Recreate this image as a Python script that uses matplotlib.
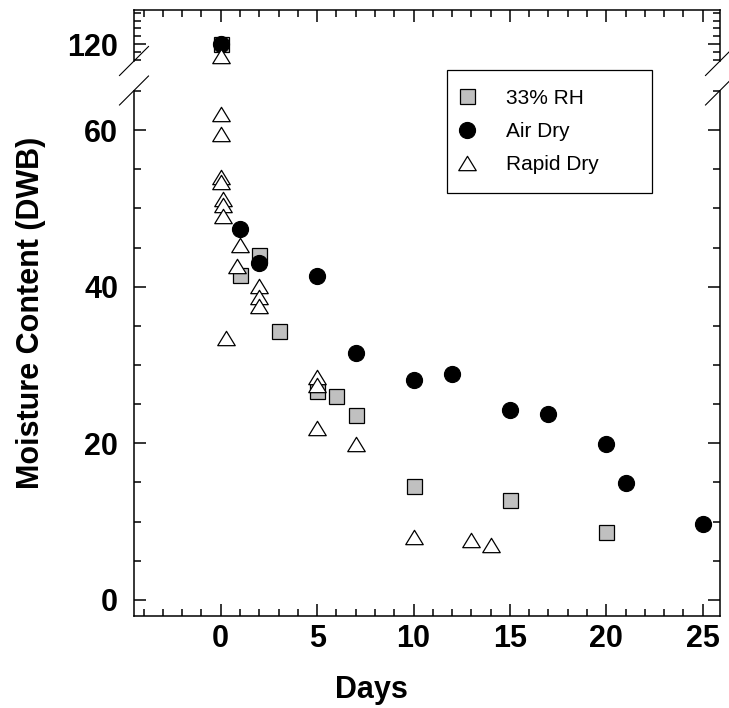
import matplotlib
matplotlib.use("Agg")
import matplotlib.pyplot as plt
from matplotlib.lines import Line2D
from matplotlib.path import Path
from matplotlib.ticker import MultipleLocator, FixedLocator
import numpy as np

plt.rcParams['font.family'] = ['Liberation Sans', 'DejaVu Sans']

# ---- data ----
rh_days = [0, 1, 2, 3, 5, 6, 7, 10, 15, 20]
rh_mc = [120, 41.5, 44.0, 34.4, 26.7, 26.1, 23.6, 14.5, 12.8, 8.7]

air_days = [0, 1, 2, 5, 7, 10, 12, 15, 17, 20, 21, 25]
air_mc = [120, 47.4, 43.0, 41.4, 31.5, 28.1, 28.9, 24.3, 23.8, 19.9, 14.9, 9.7]

rapid_days = [0, 0, 0, 0, 0, 0.1, 0.1, 0.1, 0.25, 0.83, 1, 2, 2, 2, 5, 5, 5, 7, 10, 13, 14]
rapid_mc = [118.5, 62.1, 59.5, 54.0, 53.4, 51.2, 50.5, 49.0, 33.5, 42.6, 45.3,
            40.1, 38.7, 37.6, 28.5, 27.4, 22.0, 19.9, 8.0, 7.6, 7.0]

labels = ['33% RH', 'Air Dry', 'Rapid Dry']
x_ticks = [0, 5, 10, 15, 20, 25]
y_ticks_low = [0, 20, 40, 60]
y_ticks_high = [120]

W, H = 729, 708
fig = plt.figure(figsize=(W / 100, H / 100), dpi=100)

L, R = 134, 720
up_top, up_bot = 10, 61
lo_top, lo_bot = 90.5, 615.6

def fr(x0, x1, ytop, ybot):
    return [x0 / W, 1 - ybot / H, (x1 - x0) / W, (ybot - ytop) / H]

ax_up = fig.add_axes(fr(L, R, up_top, up_bot))
ax_lo = fig.add_axes(fr(L, R, lo_top, lo_bot))

px_per_unit = 7.83
xlim = (-4.5, 25.9)
ax_lo.set_xlim(*xlim)
ax_up.set_xlim(*xlim)
ax_lo.set_ylim(-2, -2 + (lo_bot - lo_top) / px_per_unit)
ax_up.set_ylim(120 - (up_bot - 44) / px_per_unit, 120 + (44 - up_top) / px_per_unit)

tri = Path([(-1, -0.82), (1, -0.82), (0, 0.82), (-1, -0.82)],
           [Path.MOVETO, Path.LINETO, Path.LINETO, Path.CLOSEPOLY])

styles = [
    dict(marker='s', markersize=10.8, markerfacecolor='#c0c0c0', markeredgecolor='black', markeredgewidth=0.9),
    dict(marker='o', markersize=11.5, markerfacecolor='black', markeredgecolor='black', markeredgewidth=0.9),
    dict(marker=tri, markersize=12.6, markerfacecolor='white', markeredgecolor='black', markeredgewidth=0.9),
]
series = [(rh_days, rh_mc), (air_days, air_mc), (rapid_days, rapid_mc)]

handles = []
for (xs, ys), st, lab in zip(series, styles, labels):
    xs = np.array(xs, float)
    ys = np.array(ys, float)
    hi = ys > 100
    h, = ax_lo.plot(xs[~hi], ys[~hi], linestyle='none', label=lab, **st)
    ax_up.plot(xs[hi], ys[hi], linestyle='none', clip_on=False, zorder=5, **st)
    handles.append(h)

lw = 1.1
for ax in (ax_up, ax_lo):
    for s in ax.spines.values():
        s.set_linewidth(lw)
    ax.xaxis.set_major_locator(FixedLocator(x_ticks))
    ax.xaxis.set_minor_locator(MultipleLocator(1))
    ax.tick_params(which='both', direction='in', width=lw, left=True, right=True)
    ax.tick_params(which='major', length=8.6)
    ax.tick_params(which='minor', length=5)

ax_up.spines['bottom'].set_visible(False)
ax_lo.spines['top'].set_visible(False)
ax_up.tick_params(which='both', bottom=False, top=True, labelbottom=False, labeltop=False)
ax_lo.tick_params(which='both', bottom=True, top=False)

ax_lo.yaxis.set_major_locator(FixedLocator(y_ticks_low))
ax_lo.yaxis.set_minor_locator(MultipleLocator(5))
ax_up.yaxis.set_major_locator(FixedLocator(y_ticks_high))
ax_up.yaxis.set_minor_locator(MultipleLocator(1))

FS = 22
for ax in (ax_up, ax_lo):
    ax.tick_params(axis='y', which='major', pad=11.5, labelsize=FS)
    for t in ax.get_yticklabels():
        t.set_fontweight('bold')
ax_lo.tick_params(axis='x', which='major', pad=6, labelsize=FS)
for t in ax_lo.get_xticklabels():
    t.set_fontweight('bold')

# break marks
d = 14.5
for (yb) in (up_bot, lo_top):
    for xb in (L, R):
        fig.add_artist(Line2D([(xb - d) / W, (xb + d) / W],
                              [1 - (yb + d) / H, 1 - (yb - d) / H],
                              color='black', linewidth=0.8, transform=fig.transFigure))

fig.text(31 / W, 1 - 313 / H, 'Moisture Content (DWB)', rotation=90, ha='center', va='center',
         fontsize=FS, fontweight='bold')
fig.text(371 / W, 1 - 690 / H, 'Days', ha='center', va='center', fontsize=FS, fontweight='bold')

lx0, lx1, ly0, ly1 = 447, 652, 70, 195
leg = fig.legend(handles=handles, labels=labels, loc='upper left',
                 bbox_to_anchor=(lx0 / W, 1 - ly1 / H, (lx1 - lx0) / W, (ly1 - ly0) / H),
                 bbox_transform=fig.transFigure, mode='expand',
                 fontsize=15, frameon=True, fancybox=False, edgecolor='black',
                 framealpha=1, borderpad=0.9, labelspacing=0.68, handlelength=0.1,
                 handletextpad=1.85, borderaxespad=0)
leg.get_frame().set_linewidth(0.9)

fig.savefig('out.png', dpi=100)
